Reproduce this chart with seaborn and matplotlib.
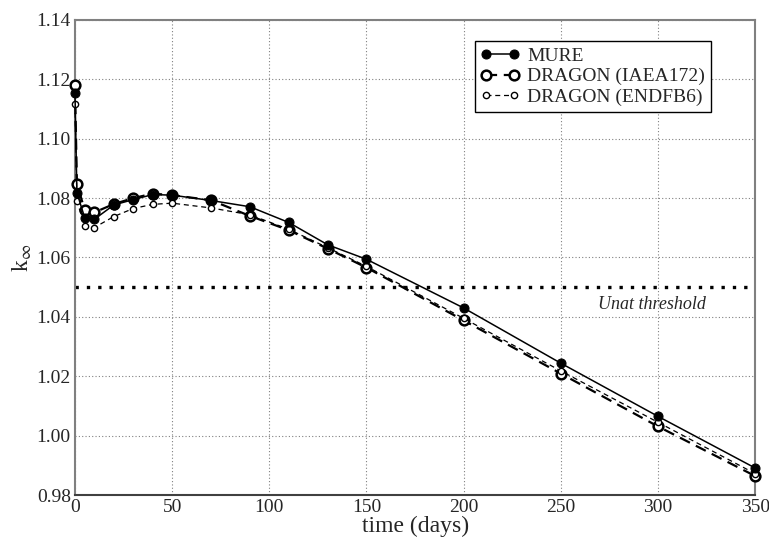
import numpy as np
import pandas as pd
import matplotlib
matplotlib.use('Agg')
import matplotlib.pyplot as plt
import seaborn as sns

# burnup time points (days)
time_days = [0, 1, 5, 10, 20, 30, 40, 50, 70, 90, 110, 130, 150, 200, 250, 300, 350]

# k-infinity per code / library
k_mure = [1.1155, 1.0818, 1.0734, 1.0729, 1.0777, 1.0795, 1.0812, 1.0810, 1.0792, 1.0771,
          1.0718, 1.0643, 1.0594, 1.0430, 1.0244, 1.0065, 0.9891]
k_iaea = [1.1180, 1.0848, 1.0760, 1.0752, 1.0780, 1.0800, 1.0815, 1.0810, 1.0793, 1.0740,
          1.0692, 1.0630, 1.0566, 1.0388, 1.0209, 1.0031, 0.9864]
k_endf = [1.1117, 1.0790, 1.0706, 1.0701, 1.0738, 1.0765, 1.0779, 1.0783, 1.0767, 1.0744,
          1.0695, 1.0633, 1.0570, 1.0395, 1.0218, 1.0045, 0.9872]

threshold = 1.05
x_ticks = [0, 50, 100, 150, 200, 250, 300, 350]
y_ticks = [0.98, 1.00, 1.02, 1.04, 1.06, 1.08, 1.10, 1.12, 1.14]

sns.set_style('white')
plt.rcParams['font.family'] = ['Liberation Serif', 'DejaVu Serif']
plt.rcParams['mathtext.fontset'] = 'stix'

fig = plt.figure(figsize=(7.69, 5.40), dpi=100)
ax = fig.add_axes([0.0975, 0.0833, 0.8845, 0.8797])

sns.lineplot(x=time_days, y=k_mure, ax=ax, color='black', linewidth=1.1,
             marker='o', markersize=6.5, markerfacecolor='black',
             markeredgecolor='black', label='MURE', clip_on=False, zorder=4)
sns.lineplot(x=time_days, y=k_iaea, ax=ax, color='black', linewidth=1.6,
             linestyle=(0, (5, 3)), marker='o', markersize=7,
             markerfacecolor='white', markeredgecolor='black', markeredgewidth=1.8,
             label='DRAGON (IAEA172)', clip_on=False, zorder=3)
sns.lineplot(x=time_days, y=k_endf, ax=ax, color='black', linewidth=0.9,
             linestyle=(0, (4, 3)), marker='o', markersize=4.5,
             markerfacecolor='white', markeredgecolor='black', markeredgewidth=1.0,
             label='DRAGON (ENDFB6)', clip_on=False, zorder=3)

# Unat threshold
ax.axhline(threshold, color='black', linewidth=2.4, linestyle=(0, (1, 2.4)),
           dash_capstyle='butt', zorder=1)
ax.text(297, 1.0443, 'Unat threshold', style='italic', fontsize=13,
        ha='center', va='center')

ax.set_xlim(0, 350)
ax.set_ylim(0.98, 1.14)
ax.set_xticks(x_ticks)
ax.set_yticks(y_ticks)
ax.set_xticklabels([str(t) for t in x_ticks])
ax.set_yticklabels([f'{v:.2f}' for v in y_ticks])
ax.tick_params(axis='both', length=0, labelsize=14, pad=3)

ax.grid(True, color='#808080', linestyle=(0, (1, 2)), linewidth=0.8)
ax.set_axisbelow(True)
for side in ['left', 'bottom', 'top', 'right']:
    ax.spines[side].set_visible(True)
    ax.spines[side].set_color('#808080')
    ax.spines[side].set_linewidth(1.5)
ax.spines['bottom'].set_color('#404040')

ax.set_xlabel('time (days)', fontsize=17, labelpad=0)
ax.set_ylabel(r'k$_\infty$', fontsize=17, labelpad=2)

leg = ax.legend(loc='upper right', bbox_to_anchor=(0.935, 0.955), fontsize=14,
                frameon=True, fancybox=False, framealpha=1, edgecolor='black',
                borderpad=0.3, labelspacing=0.15, handlelength=2.0,
                handletextpad=0.4, borderaxespad=0, numpoints=2)
leg.get_frame().set_linewidth(1.0)

fig.savefig('out.png', dpi=100)
